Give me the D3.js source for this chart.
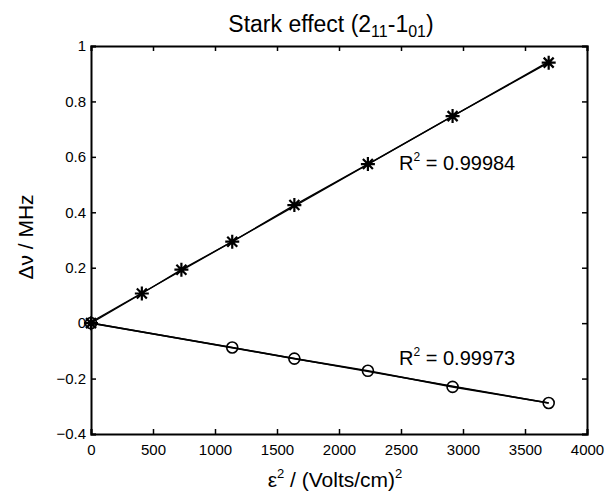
<!DOCTYPE html>
<html>
<head>
<meta charset="utf-8">
<script src="https://cdn.jsdelivr.net/npm/d3@7"></script>
<style>
  html, body { margin: 0; padding: 0; background: #fff; }
  svg { display: block; font-family: "Liberation Sans", Arial, sans-serif; }
</style>
</head>
<body>
<svg id="chart" width="607" height="493"></svg>
<script>
// ---- data ----
const starX = [0, 410, 729, 1139, 1640, 2233, 2916, 3691];
const starY = [0, 0.107, 0.193, 0.294, 0.426, 0.574, 0.747, 0.940];
const circX = [0, 1139, 1640, 2233, 2916, 3691];
const circY = [0, -0.088, -0.128, -0.172, -0.230, -0.288];
const xTicks = [0, 500, 1000, 1500, 2000, 2500, 3000, 3500, 4000];
const yTicks = [-0.4, -0.2, 0, 0.2, 0.4, 0.6, 0.8, 1];
const r2Star = "0.99984";
const r2Circ = "0.99973";

const svg = d3.select("#chart");
const m = { left: 91, right: 587, top: 46, bottom: 434 };
const x = d3.scaleLinear().domain([0, 4000]).range([m.left, m.right]);
const y = d3.scaleLinear().domain([-0.4, 1]).range([m.bottom, m.top]);

// linear least-squares fit
function fit(xs, ys) {
  const n = xs.length, mx = d3.mean(xs), my = d3.mean(ys);
  let sxy = 0, sxx = 0;
  for (let i = 0; i < n; i++) { sxy += (xs[i]-mx)*(ys[i]-my); sxx += (xs[i]-mx)**2; }
  const b = sxy / sxx, a = my - b*mx;
  return v => a + b*v;
}

// axes (ticks inward, box)
const tickLen = 5;
const axB = svg.append("g").attr("transform", `translate(0,${m.bottom})`)
  .call(d3.axisBottom(x).tickValues(xTicks).tickSize(-tickLen).tickPadding(10).tickFormat(d3.format("d")));
const axT = svg.append("g").attr("transform", `translate(0,${m.top})`)
  .call(d3.axisTop(x).tickValues(xTicks).tickSize(-tickLen).tickFormat(""));
const axL = svg.append("g").attr("transform", `translate(${m.left},0)`)
  .call(d3.axisLeft(y).tickValues(yTicks).tickSize(-tickLen).tickPadding(5).tickFormat(d => d3.format("")(+d.toFixed(1))));
const axR = svg.append("g").attr("transform", `translate(${m.right},0)`)
  .call(d3.axisRight(y).tickValues(yTicks).tickSize(-tickLen).tickFormat(""));
[axB, axT, axL, axR].forEach(g => {
  g.select(".domain").attr("stroke", "#000").attr("stroke-width", 2);
  g.selectAll(".tick line").attr("stroke", "#000").attr("stroke-width", 1.5);
  g.selectAll(".tick text").attr("fill", "#000").style("font-size", "15px")
    .style("font-family", "Liberation Sans, Arial, sans-serif");
});

const plot = svg.append("g");
const line = d3.line().x(d => x(d[0])).y(d => y(d[1]));

const sData = starX.map((v, i) => [v, starY[i]]);
const cData = circX.map((v, i) => [v, circY[i]]);
const fS = fit(starX, starY), fC = fit(circX, circY);

plot.append("path").datum(sData).attr("d", line).attr("fill", "none").attr("stroke", "#000").attr("stroke-width", 1.3);
plot.append("path").datum([[0, fS(0)], [d3.max(starX), fS(d3.max(starX))]]).attr("d", line)
  .attr("fill", "none").attr("stroke", "#000").attr("stroke-width", 1.3);
plot.append("path").datum(cData).attr("d", line).attr("fill", "none").attr("stroke", "#000").attr("stroke-width", 1.6);
plot.append("path").datum([[0, fC(0)], [d3.max(circX), fC(d3.max(circX))]]).attr("d", line)
  .attr("fill", "none").attr("stroke", "#000").attr("stroke-width", 1.6);

// MATLAB-style '*' marker (plus + cross)
const a = 7, dgl = 5;
const starPath = `M${-a},0L${a},0M0,${-a}L0,${a}M${-dgl},${-dgl}L${dgl},${dgl}M${-dgl},${dgl}L${dgl},${-dgl}`;
plot.selectAll(".star").data(sData).join("path")
  .attr("transform", d => `translate(${x(d[0])},${y(d[1])})`)
  .attr("d", starPath).attr("stroke", "#000").attr("stroke-width", 2.2).attr("fill", "none");

// circle markers
plot.selectAll(".circ").data(cData).join("circle")
  .attr("cx", d => x(d[0])).attr("cy", d => y(d[1])).attr("r", 5.5)
  .attr("fill", "none").attr("stroke", "#000").attr("stroke-width", 1.6);

// R^2 annotations
function r2(tx, ty, val) {
  const t = svg.append("text").attr("x", tx).attr("y", ty).style("font-size", "20px").attr("fill", "#000");
  t.append("tspan").text("R");
  t.append("tspan").attr("dy", -9).style("font-size", "12px").text("2");
  t.append("tspan").attr("dy", 9).text(" = " + val);
}
r2(x(2484), y(0.553), r2Star);
r2(x(2484), y(-0.151), r2Circ);

// title
const title = svg.append("text").attr("x", 331).attr("y", 32)
  .attr("text-anchor", "middle").style("font-size", "23px").attr("fill", "#000");
title.append("tspan").text("Stark effect (2");
title.append("tspan").attr("dy", 5).style("font-size", "16px").text("11");
title.append("tspan").attr("dy", -5).text("-1");
title.append("tspan").attr("dy", 5).style("font-size", "16px").text("01");
title.append("tspan").attr("dy", -5).text(")");

// x label
const xl = svg.append("text").attr("x", 335).attr("y", 487)
  .attr("text-anchor", "middle").style("font-size", "21px").attr("fill", "#000");
xl.append("tspan").text("ε");
xl.append("tspan").attr("dy", -9).style("font-size", "13px").text("2");
xl.append("tspan").attr("dy", 9).text(" / (Volts/cm)");
xl.append("tspan").attr("dy", -9).style("font-size", "13px").text("2");

// y label
svg.append("text").attr("transform", `translate(33,${(m.top + m.bottom) / 2 - 3}) rotate(-90)`)
  .attr("text-anchor", "middle").style("font-size", "21px").attr("fill", "#000").text("Δν / MHz");
</script>
</body>
</html>
